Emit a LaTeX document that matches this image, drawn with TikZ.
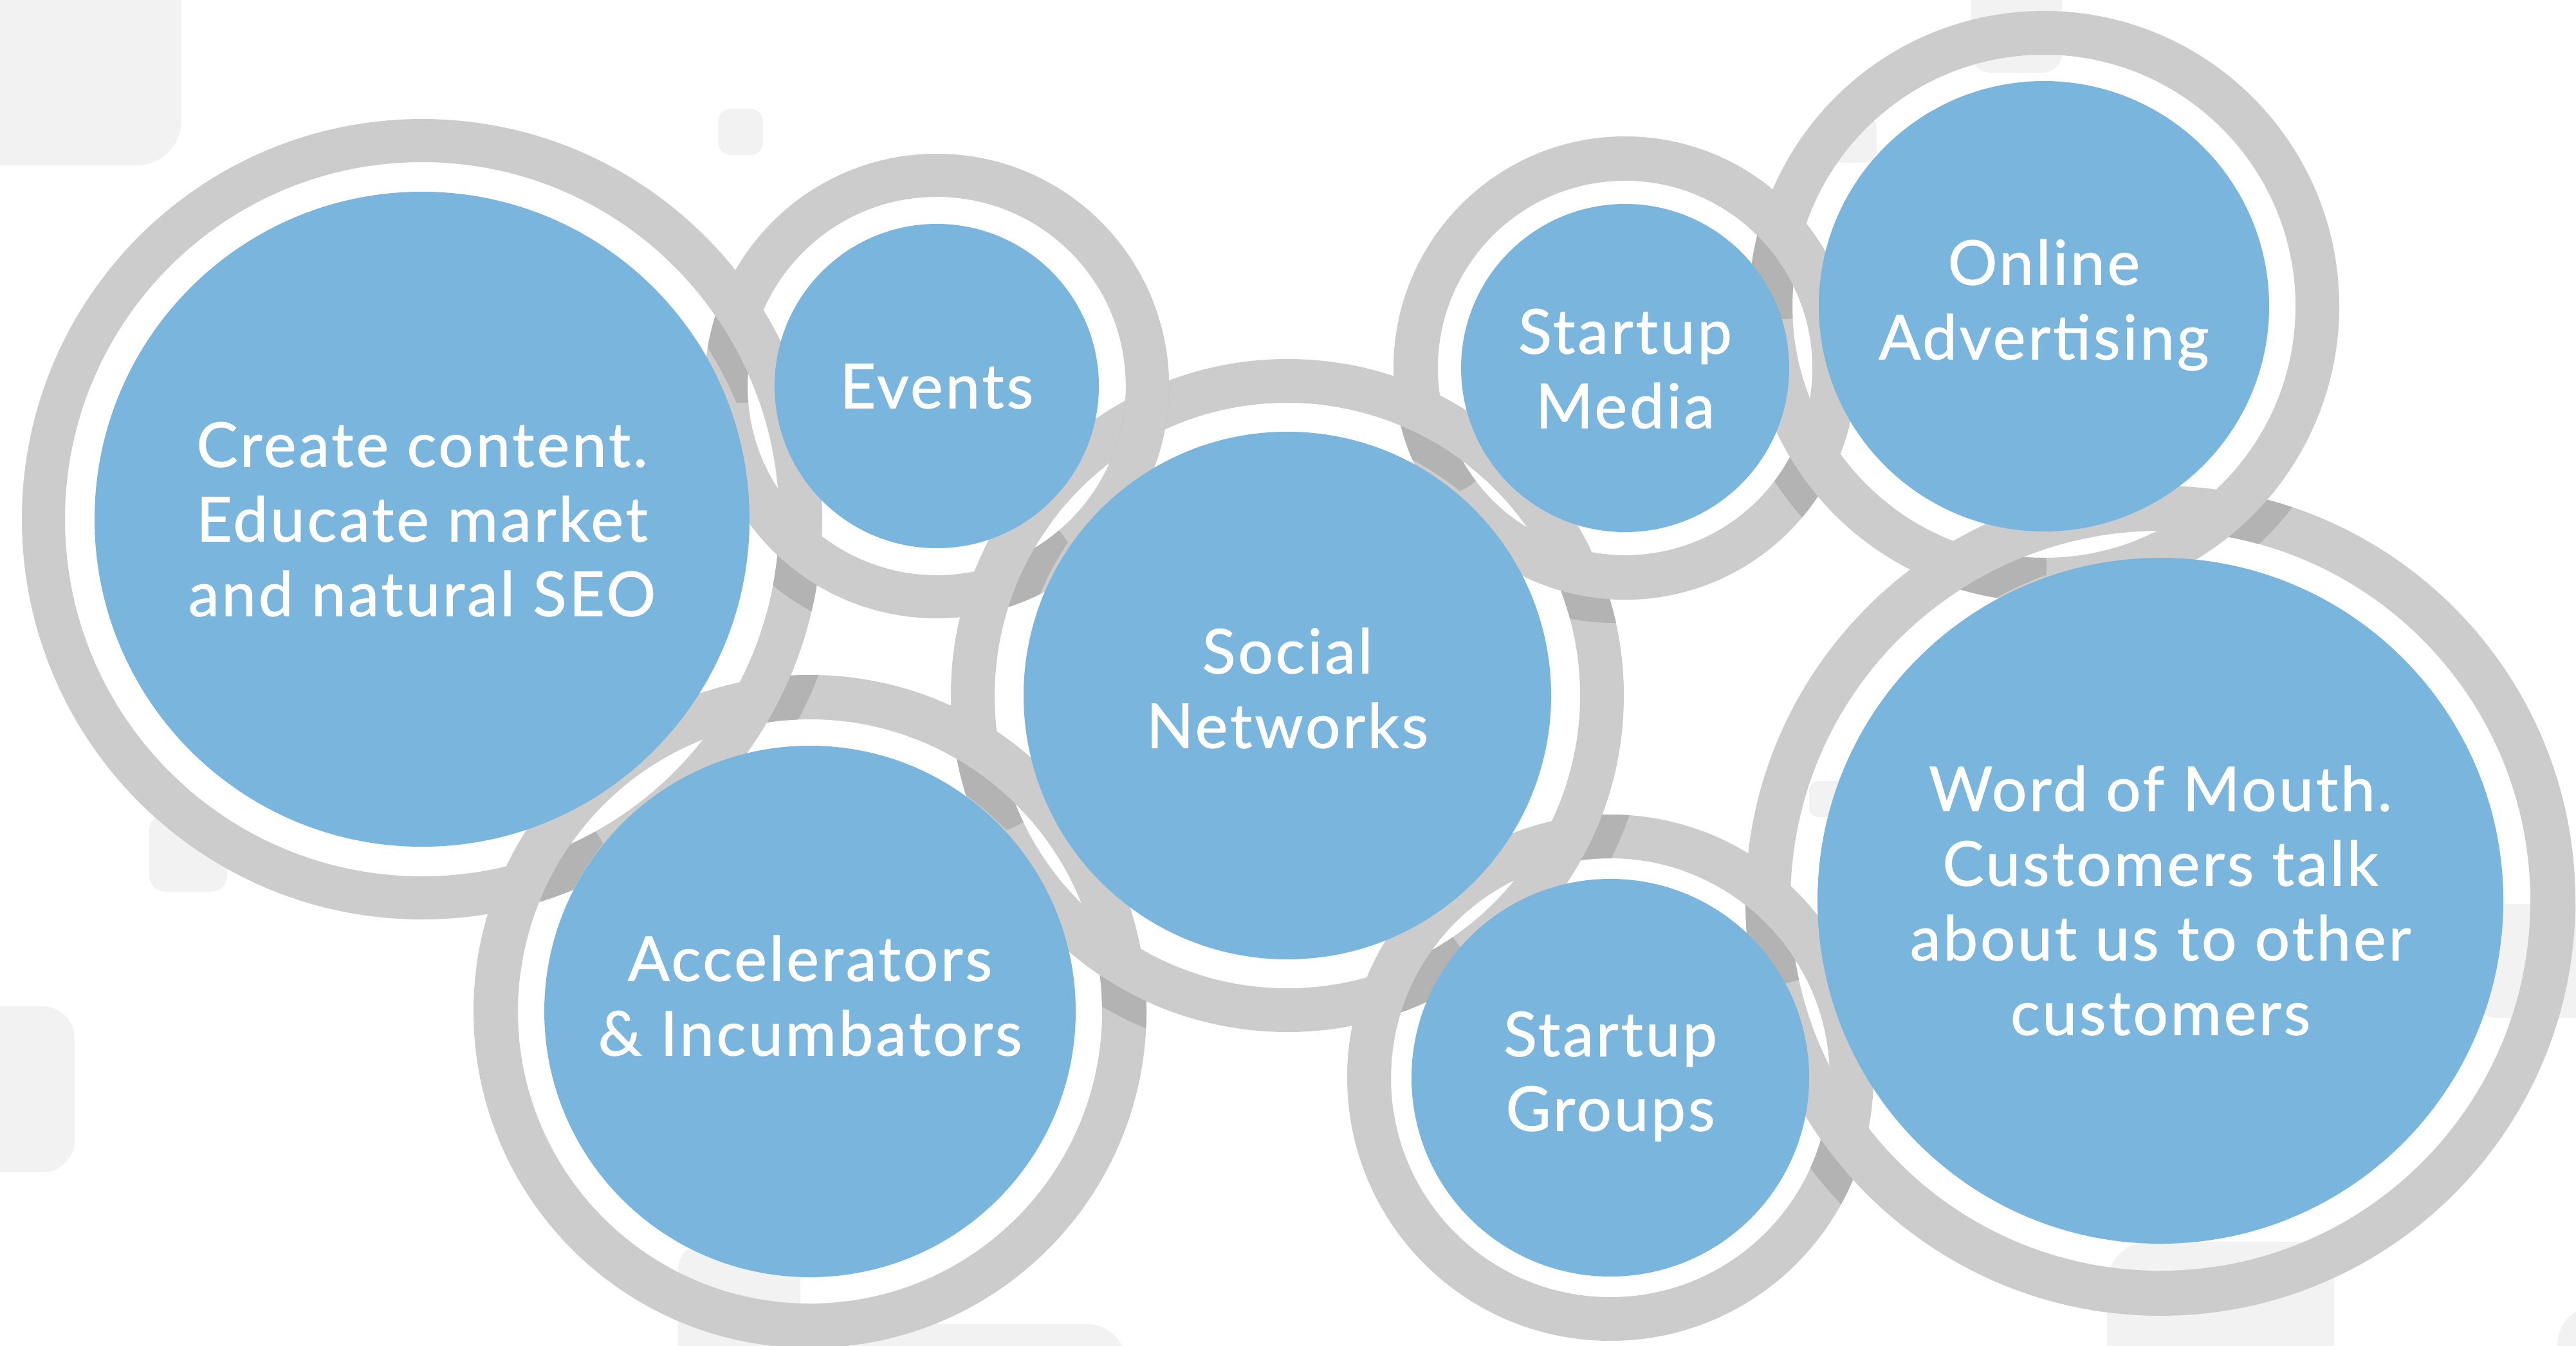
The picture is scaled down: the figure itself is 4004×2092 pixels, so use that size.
\documentclass[tikz,border=0pt]{standalone}
\usepackage{fontspec}
\setmainfont{Lato}[FakeBold=1.0, LetterSpace=4]
\definecolor{ringgray}{HTML}{CCCCCC}
\definecolor{shadowgray}{HTML}{B3B3B3}
\definecolor{bubble}{HTML}{79B5DC}
\definecolor{tile}{HTML}{F2F2F2}
\newcommand{\bubblefont}{\fontsize{96}{116}\selectfont}
\newcommand{\upstrut}{\rule{0pt}{90pt}}
\newcommand{\dnstrut}{\rule[-21pt]{0pt}{21pt}}
% #1 crossing point, #2 upper ring centre, #3/#4 its outer/inner radius,
% #5 lower ring centre, #6/#7 its outer/inner radius, #8 shadow offset
\newcommand{\weave}[8]{%
  \begin{scope}
    \clip (#1) circle (140pt);
    \begin{scope}
      \clip ([shift={(#6,0)}]#5) arc[start angle=0, end angle=360, radius=#6pt]
        -- ([shift={(#7,0)}]#5) arc[start angle=360, end angle=0, radius=#7pt] -- cycle;
      \fill[shadowfill, even odd rule] ([shift={(#8)}]#2) circle (#3pt) ([shift={(#8)}]#2) circle (#4pt);
    \end{scope}
    \fill[ringfill, even odd rule] (#2) circle (#3pt) (#2) circle (#4pt);
  \end{scope}}
\begin{document}
\begin{tikzpicture}[x=1pt,y=-1pt,
  ringfill/.style={fill=ringgray},
  shadowfill/.style={fill=shadowgray},
  bluefill/.style={fill=bubble},
  tilefill/.style={fill=tile},
  bubbletext/.style={text=white, align=center, font=\bubblefont, inner sep=0pt}]
\useasboundingbox (0,0) rectangle (4004,2092);
\clip (0,0) rectangle (4004,2092);
\fill[white] (0,0) rectangle (4004,2092);
% background tiles
\fill[tilefill, rounded corners=70pt] (-100,-100) rectangle (282,257);
\fill[tilefill, rounded corners=20pt] (1116,169) rectangle (1186,241);
\fill[tilefill, rounded corners=25pt] (232,1265) rectangle (353,1386);
\fill[tilefill, rounded corners=50pt] (-100,1564) rectangle (116,1822);
\fill[tilefill, rounded corners=40pt] (1054,1933) rectangle (1244,2200);
\fill[tilefill, rounded corners=60pt] (1330,2058) rectangle (1750,2200);
\fill[tilefill, rounded corners=30pt] (3064,-50) rectangle (3205,113);
\fill[tilefill, rounded corners=20pt] (2830,180) rectangle (2917,253);
\fill[tilefill, rounded corners=15pt] (2812,1214) rectangle (2885,1270);
\fill[tilefill, rounded corners=30pt] (3850,1405) rectangle (4100,1582);
\fill[tilefill, rounded corners=65pt] (3275,1930) rectangle (3628,2200);
\fill[tilefill, rounded corners=60pt] (3975,2030) rectangle (4150,2250);
% centres
\coordinate (cC) at (656,807);
\coordinate (cE) at (1456,600);
\coordinate (cS) at (2001,1081);
\coordinate (cA) at (1259,1572);
\coordinate (cM) at (2526,572);
\coordinate (cO) at (3177,476);
\coordinate (cG) at (2503,1675);
\coordinate (cW) at (3358,1400);
% rings
\fill[ringfill, even odd rule] (cC) circle (622pt) (cC) circle (555pt);
\fill[ringfill, even odd rule] (cE) circle (361pt) (cE) circle (294pt);
\fill[ringfill, even odd rule] (cA) circle (523pt) (cA) circle (454pt);
\fill[ringfill, even odd rule] (cS) circle (523pt) (cS) circle (455pt);
\fill[ringfill, even odd rule] (cM) circle (360pt) (cM) circle (291pt);
\fill[ringfill, even odd rule] (cO) circle (459pt) (cO) circle (391pt);
\fill[ringfill, even odd rule] (cG) circle (409pt) (cG) circle (341pt);
\fill[ringfill, even odd rule] (cW) circle (645pt) (cW) circle (575pt);
% interlocking crossings
\weave{1149,486}{cC}{622}{555}{cE}{361}{294}{-24,32}
\weave{1243,849}{cE}{361}{294}{cC}{622}{555}{-24,32}
\weave{1171,1091}{cC}{622}{555}{cA}{523}{454}{35,20}
\weave{812,1374}{cA}{523}{454}{cC}{622}{555}{35,20}
\weave{1780,644}{cE}{361}{294}{cS}{523}{455}{0,0}
\weave{1540,916}{cS}{523}{455}{cE}{361}{294}{36,17}
\weave{1518,1158}{cA}{523}{454}{cS}{523}{455}{-22,33}
\weave{1741,1495}{cS}{523}{455}{cA}{523}{454}{-22,33}
\weave{2207,638}{cS}{523}{455}{cM}{360}{291}{-18,36}
\weave{2451,889}{cM}{360}{291}{cS}{523}{455}{-18,36}
\weave{2769,356}{cM}{360}{291}{cO}{459}{391}{-33,23}
\weave{2821,709}{cO}{459}{391}{cM}{360}{291}{-33,23}
\weave{3455,798}{cO}{459}{391}{cW}{645}{575}{22,33}
\weave{3041,879}{cW}{645}{575}{cO}{459}{391}{22,33}
\weave{2435,1306}{cS}{523}{455}{cG}{409}{341}{36,18}
\weave{2151,1547}{cG}{409}{341}{cS}{523}{455}{36,18}
\weave{2748,1391}{cG}{409}{341}{cW}{645}{575}{-30,26}
\weave{2868,1763}{cW}{645}{575}{cG}{409}{341}{-30,26}
% blue discs
\fill[bluefill] (cC) circle (509pt);
\fill[bluefill] (cE) circle (252pt);
\fill[bluefill] (cA) circle (413pt);
\fill[bluefill] (cS) circle (410pt);
\fill[bluefill] (cM) circle (255pt);
\fill[bluefill] (cO) circle (350pt);
\fill[bluefill] (cG) circle (309pt);
\fill[bluefill] (cW) circle (533pt);
% labels
\node[bubbletext] (tC) at (656,807) {\upstrut Create content.\\Educate market\\and natural SEO\dnstrut};
\node[bubbletext] (tE) at (1456,600) {\upstrut Events\dnstrut};
\node[bubbletext] (tS) at (2001,1070) {\upstrut Social\\Networks\dnstrut};
\node[bubbletext] (tM) at (2526,573) {\upstrut Startup\\Media\dnstrut};
\node[bubbletext] (tO) at (3177,466) {\upstrut Online\\Advertising\dnstrut};
\node[bubbletext] (tA) at (1259,1548) {\upstrut Accelerators\\\& Incumbators\dnstrut};
\node[bubbletext] (tG) at (2503,1665) {\upstrut Startup\\Groups\dnstrut};
\node[bubbletext] (tW) at (3358,1400) {\upstrut Word of Mouth.\\Customers talk\\about us to other\\customers\dnstrut};
\end{tikzpicture}
\end{document}
